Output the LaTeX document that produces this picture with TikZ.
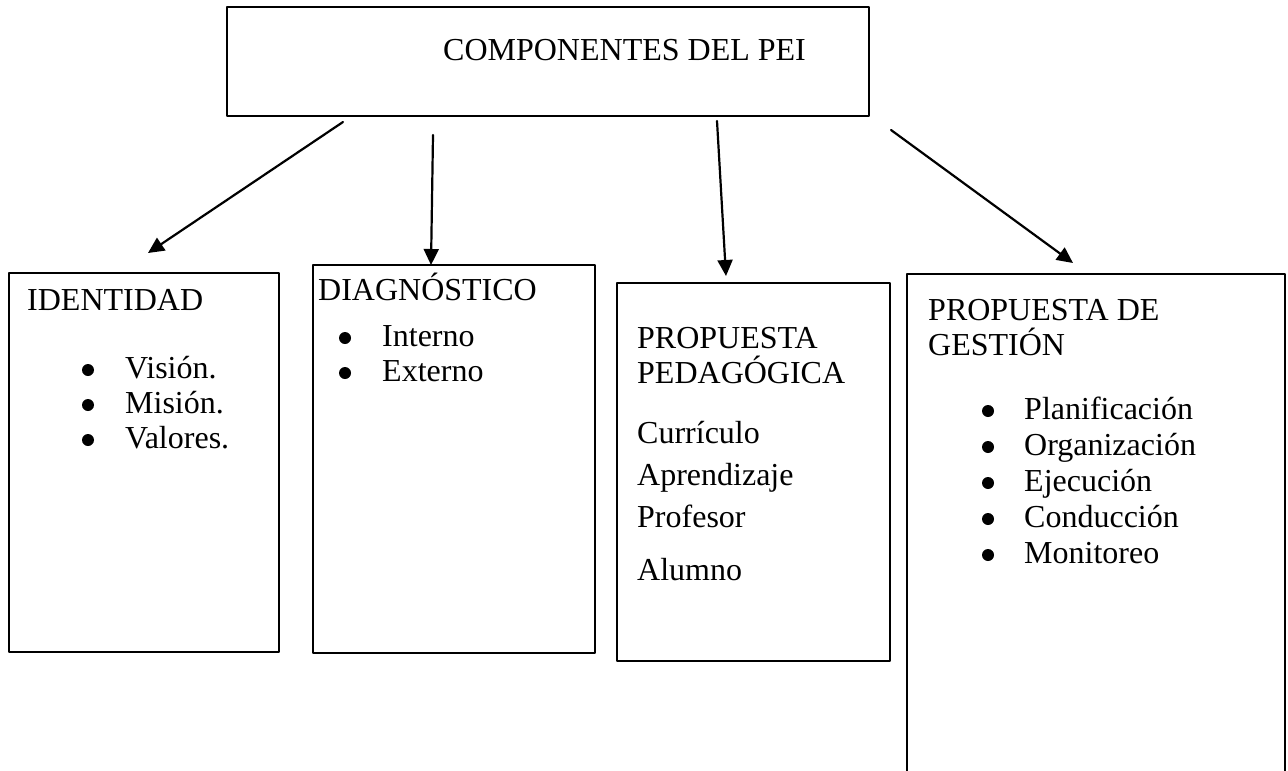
\documentclass[tikz,border=0pt]{standalone}
\usepackage{fontspec}
\setmainfont{Liberation Serif}
\usetikzlibrary{arrows.meta, positioning}

\tikzset{
  panel/.style={draw, line width=1.3pt, inner sep=0pt, outer sep=0pt, anchor=north west},
  txt/.style={inner sep=0pt, anchor=base west, font=\fontsize{32}{37}\selectfont},
  dot/.style={circle, fill, inner sep=0pt, minimum size=12pt},
  pointer/.style={->, line width=2.2pt},
}

\begin{document}
\begin{tikzpicture}[x=1pt, y=-1pt, line cap=round, line join=round, >={Triangle[length=16pt, width=15pt]}]

	\useasboundingbox (0,0) rectangle (1288,771);

	% boxes
	\node[panel, minimum width=642pt, minimum height=109pt] (pei) at (227,7) {};
	\node[panel, minimum width=270pt, minimum height=379pt] (identidad) at (9,273) {};
	\node[panel, minimum width=282pt, minimum height=388pt] (diagnostico) at (313,265) {};
	\node[panel, minimum width=273pt, minimum height=378pt] (pedagogica) at (617,283) {};
	\node[panel, draw=none, minimum width=378pt, minimum height=497pt] (gestion) at (907,274) {};
	\draw[line width=1.3pt] (gestion.south west) |- (gestion.north east) -- (gestion.south east);

	% title
	\node[txt] (titulo) at (443,60) {COMPONENTES DEL PEI};

	% identidad
	\node[txt] (idtitle) at (27,310) {IDENTIDAD};
	\foreach \name/\y [count=\i] in {Visión./378, Misión./413, Valores./448} {
		\node[dot] (idb\i) at (88,\y-8) {};
		\node[txt] (idt\i) at (125,\y) {\name};
	}

	% diagnostico
	\node[txt] (dgtitle) at (318,300) {DIAGNÓSTICO};
	\foreach \name/\y [count=\i] in {Interno/346, Externo/381} {
		\node[dot] (dgb\i) at (345,\y-8) {};
		\node[txt] (dgt\i) at (382,\y) {\name};
	}

	% propuesta pedagogica
	\node[txt] (pptitle) at (637,348) {PROPUESTA};
	\node[txt] (pptitleb) at (637,383) {PEDAGÓGICA};
	\foreach \name/\y [count=\i] in {Currículo/443, Aprendizaje/485, Profesor/527, Alumno/580} {
		\node[txt] (ppt\i) at (637,\y) {\name};
	}

	% propuesta de gestion
	\node[txt] (pgtitle) at (928,320) {PROPUESTA DE};
	\node[txt] (pgtitleb) at (928,355) {GESTIÓN};
	\foreach \name/\y [count=\i] in {Planificación/419, Organización/455, Ejecución/491, Conducción/527, Monitoreo/563} {
		\node[dot] (pgb\i) at (988,\y-8) {};
		\node[txt] (pgt\i) at (1024,\y) {\name};
	}

	% arrow ends
	\coordinate (s1) at (343,122);
	\coordinate (e1) at (148,253);
	\coordinate (s2) at (433,135);
	\coordinate (e2) at (431,265);
	\coordinate (s3) at (717,121);
	\coordinate (e3) at (726,276);
	\coordinate (s4) at (891,130);
	\coordinate (e4) at (1073,263);

	\draw[pointer] (s1) -- (e1);
	\draw[pointer] (s2) -- (e2);
	\draw[pointer] (s3) -- (e3);
	\draw[pointer] (s4) -- (e4);
\end{tikzpicture}
\end{document}
